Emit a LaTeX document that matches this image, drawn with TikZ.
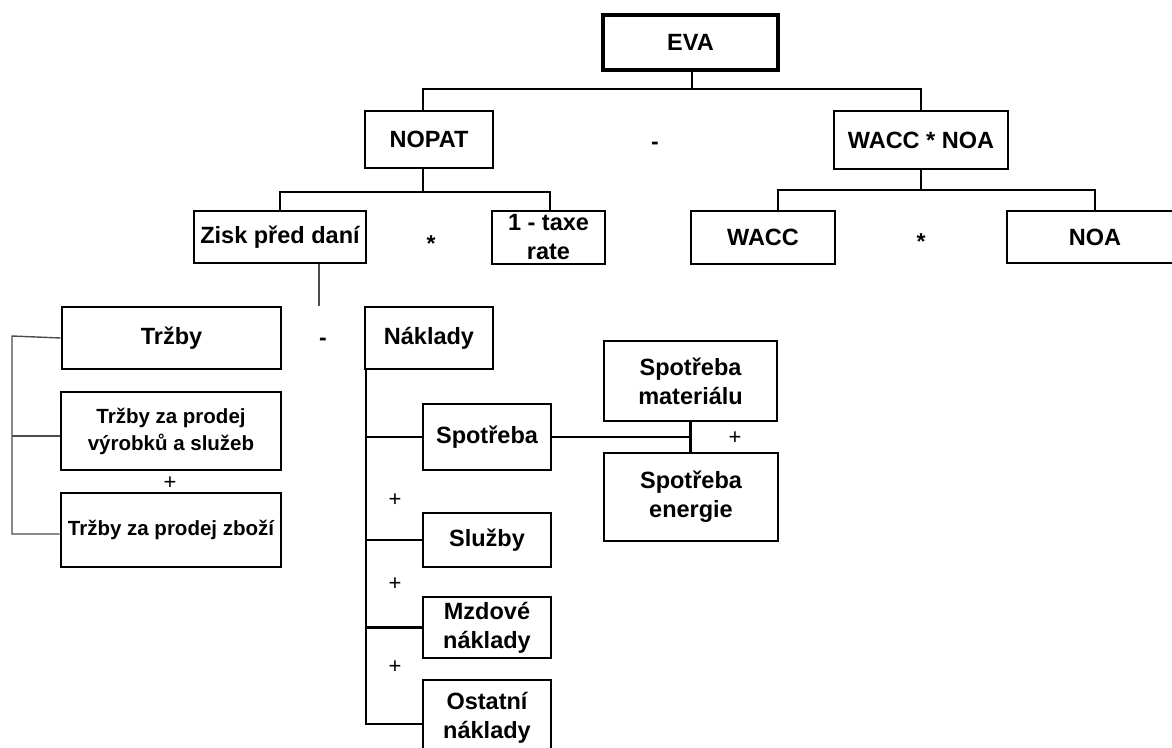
\documentclass[tikz,border=0pt]{standalone}
\usepackage{fontspec}
\setmainfont{Liberation Sans}
\begin{document}
\begin{tikzpicture}[x=1pt,y=-1pt,
  box/.style={draw, line width=2.9pt, inner sep=0pt, align=center,
    font=\bfseries\fontsize{23.5}{29}\selectfont},
  smallbox/.style={box, font=\bfseries\fontsize{20.5}{27}\selectfont},
  conn/.style={line width=2.9pt},
  thinline/.style={line width=1.4pt, draw=black!70},
  op/.style={inner sep=0pt, font=\bfseries\fontsize{23}{28}\selectfont},
  plus/.style={inner sep=0pt, font=\fontsize{22}{26}\selectfont}]
\useasboundingbox (0,0) rectangle (1172,747);

% top level
\node[box, line width=4pt, minimum width=175pt, minimum height=55pt] (eva) at (690.5,42.5) {EVA};
\node[box, minimum width=128pt, minimum height=57pt] (nopat) at (429,139.5) {NOPAT};
\node[box, minimum width=174pt, minimum height=58pt] (waccnoa) at (921,140) {WACC * NOA};

% second level
\node[box, minimum width=172pt, minimum height=52pt] (zisk) at (280,237) {Zisk před daní};
\node[box, minimum width=113pt, minimum height=53pt] (taxe) at (548.5,237.5) {1 - taxe\\rate};
\node[box, minimum width=144pt, minimum height=53pt] (wacc) at (763,237.5) {WACC};
\node[box, minimum width=176pt, minimum height=52pt] (noa) at (1095,237) {NOA};

% revenue and costs
\node[box, minimum width=219pt, minimum height=62pt] (trzby) at (171.5,338) {Tržby};
\node[box, minimum width=128pt, minimum height=62pt] (naklady) at (429,338) {Náklady};
\node[smallbox, minimum width=220pt, minimum height=78pt] (tzp) at (171,431) {Tržby za prodej\\výrobků a služeb};
\node[smallbox, minimum width=220pt, minimum height=74pt] (tzz) at (171,530) {Tržby za prodej zboží};

% cost items
\node[box, minimum width=128pt, minimum height=66pt] (spotreba) at (487,437) {Spotřeba};
\node[box, minimum width=173pt, minimum height=80pt] (smat) at (690.5,381) {Spotřeba\\materiálu};
\node[box, minimum width=174pt, minimum height=88pt] (sen) at (691,497) {Spotřeba\\energie};
\node[box, minimum width=128pt, minimum height=54pt] (sluzby) at (487,540) {Služby};
\node[box, minimum width=128pt, minimum height=61pt] (mzd) at (487,627.5) {Mzdové\\náklady};
\node[box, minimum width=128pt, minimum height=76pt] (ost) at (487,718) {Ostatní\\náklady};

% operators
\node[op] (opminus1) at (655,146) {-};
\node[op] (optimes1) at (431,244) {*};
\node[op] (optimes2) at (921,242) {*};
\node[op] (opminus2) at (323,342) {-};
\node[plus] (opplus1) at (170,483) {+};
\node[plus] (opplus2) at (735,438) {+};
\node[plus] (opplus3) at (395,500) {+};
\node[plus] (opplus4) at (395,584) {+};
\node[plus] (opplus5) at (395,667) {+};

% EVA branch
\coordinate (bus1) at (692,89);
\draw[conn] (eva.south -| bus1) -- (bus1);
\draw[conn] ([xshift=-6pt]nopat.north) |- (bus1) -| (waccnoa.north);

% NOPAT branch
\coordinate (bus2) at (423,192);
\draw[conn] ([xshift=-6pt]nopat.south) -- (bus2);
\draw[conn] (zisk.north) |- (bus2) -| ([xshift=1.5pt]taxe.north);

% WACC * NOA branch
\coordinate (bus3) at (921,190);
\draw[conn] (waccnoa.south) -- (bus3);
\draw[conn] ([xshift=15pt]wacc.north) |- (bus3) -| (noa.north);

% profit before tax splits into revenue and costs
\draw[thinline] ([xshift=39pt]zisk.south) -- ([xshift=39pt]zisk.south |- trzby.north);

% revenue bracket
\coordinate (lbtop) at (12,336);
\coordinate (lbbot) at (12,534);
\draw[thinline] (trzby.west) -- (lbtop) -- (lbbot) -- (tzz.west |- lbbot);
\draw[thinline] (lbtop |- 0,436) -- (tzp.west |- 0,436);

% cost tree
\coordinate (nkbot) at (366,724);
\draw[conn] (naklady.south west -| nkbot) -- (nkbot) -- (ost.west |- nkbot);
\draw[conn] (spotreba.west -| nkbot) -- (spotreba.west);
\draw[conn] (sluzby.west -| nkbot) -- (sluzby.west);
\draw[conn] (mzd.west -| nkbot) -- (mzd.west);

% consumption split
\draw[conn] (spotreba.east) -- (spotreba.east -| smat.south);
\draw[conn] (smat.south) -- (sen.north -| smat.south);
\end{tikzpicture}
\end{document}
